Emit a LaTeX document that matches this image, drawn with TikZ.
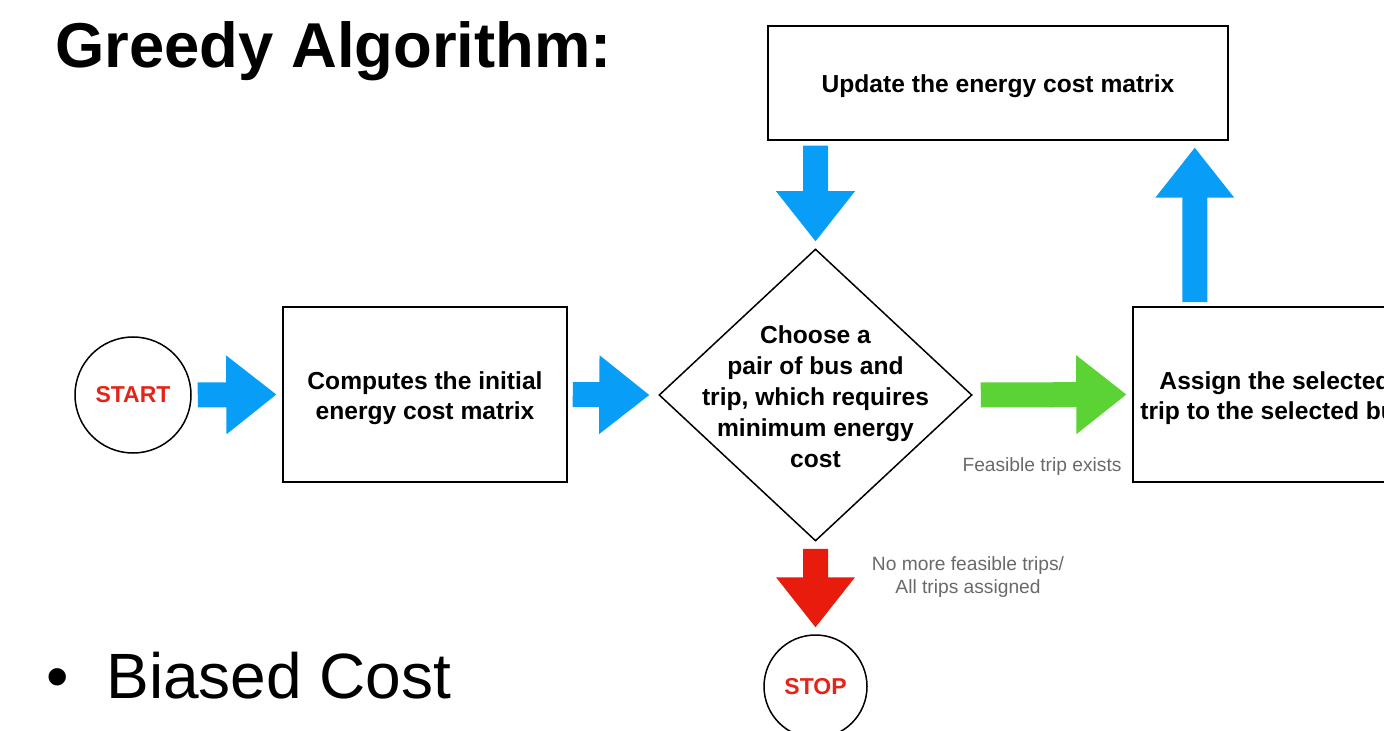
\documentclass[tikz,border=0pt]{standalone}
\usepackage{fontspec}
\setmainfont{Liberation Sans}
\usetikzlibrary{shapes.geometric,calc}

\definecolor{flowblue}{RGB}{8,158,248}
\definecolor{flowgreen}{RGB}{91,211,52}
\definecolor{flowred}{RGB}{232,28,12}
\definecolor{termred}{RGB}{228,36,24}
\definecolor{notegray}{RGB}{105,105,105}

\tikzset{
  stepbox/.style={draw=black, line width=0.75pt, rectangle,
    minimum width=142pt, minimum height=87.5pt, inner sep=0pt},
  boxtext/.style={align=center, inner sep=0pt, yshift=-2pt,
    font=\fontsize{12.3}{15}\selectfont\bfseries},
  terminal/.style={draw=black, line width=0.75pt, circle, inner sep=0pt,
    text=termred, font=\fontsize{11.5}{13}\selectfont\bfseries},
  decision/.style={draw=black, line width=0.75pt, diamond,
    minimum width=156.5pt, minimum height=146pt, inner sep=0pt},
  decisiontext/.style={align=center, inner sep=0pt,
    font=\fontsize{12.3}{15.5}\selectfont\bfseries},
  note/.style={text=notegray, align=center, inner sep=0pt,
    font=\fontsize{9.6}{11.5}\selectfont},
  heading/.style={anchor=base west, inner sep=0pt},
}

% Thick block arrow from #2 (tail) to #3 (tip), filled with colour #1
\newcommand\blockarrow[3]{%
  \coordinate (ba-head) at ($(#3)!25pt!(#2)$);
  \fill[#1]
    ($(#2)!6.25pt!90:(#3)$) --
    ($(ba-head)!6.25pt!90:(#3)$) --
    ($(ba-head)!19.75pt!90:(#3)$) --
    (#3) --
    ($(ba-head)!19.75pt!-90:(#3)$) --
    ($(ba-head)!6.25pt!-90:(#3)$) --
    ($(#2)!6.25pt!-90:(#3)$) -- cycle;}

\begin{document}
\begin{tikzpicture}[x=0.5pt,y=-0.5pt]
\useasboundingbox (0,0) rectangle (1384,731);
\clip (0,0) rectangle (1384,731);

% headings
\node[heading, font=\fontsize{31.7}{38}\selectfont\bfseries] (title) at (55,68) {Greedy Algorithm:};
\node[heading, font=\fontsize{32}{38}\selectfont] (bullet) at (46,698) {•};
\node[heading, font=\fontsize{32}{38}\selectfont] (point) at (106,698) {Biased Cost};

% flowchart nodes
\node[terminal, minimum size=58pt] (start) at (133,395) {START};
\node[stepbox, label={[boxtext]center:{Computes the initial\\energy cost matrix}}] (compute) at (425,394.5) {};
\node[decision] (choose) at (815.5,395) {};
\node[decisiontext] (choosetext) at ($(choose.center)+(0,2)$) {Choose a\\pair of bus and\\trip, which requires\\minimum energy\\cost};
\node[stepbox, label={[boxtext]center:{Assign the selected\\trip to the selected bus}}] (assign) at (1275,394.5) {};
\node[stepbox, minimum width=230pt, minimum height=57pt,
      label={[boxtext, yshift=0.5pt]center:{Update the energy cost matrix}}] (update) at (998,83) {};
\node[terminal, minimum size=51.5pt] (stop) at (815.5,686.5) {STOP};

% connector end points
\coordinate (a1s) at ($(start.east)+(6,0)$);
\coordinate (a1e) at ($(compute.west)+(-6,0)$);
\coordinate (a2s) at ($(compute.east)+(5,0)$);
\coordinate (a2e) at ($(choose.west)+(-9,0)$);
\coordinate (a3s) at ($(choose.east)+(8,0)$);
\coordinate (a3e) at ($(assign.west)+(-6,0)$);
\coordinate (a4e) at ($(update.south east)+(-34,7)$);
\coordinate (a4s) at ($(a4e |- assign.north)+(0,-4)$);
\coordinate (a5s) at ($(choose.north |- update.south)+(0,5)$);
\coordinate (a5e) at ($(choose.north)+(0,-7)$);
\coordinate (a6s) at ($(choose.south)+(0,7)$);
\coordinate (a6e) at ($(stop.north)+(0,-7)$);

% connectors
\blockarrow{flowblue}{a1s}{a1e}
\blockarrow{flowblue}{a2s}{a2e}
\blockarrow{flowgreen}{a3s}{a3e}
\blockarrow{flowblue}{a4s}{a4e}
\blockarrow{flowblue}{a5s}{a5e}
\blockarrow{flowred}{a6s}{a6e}

% connector labels
\node[note] (feasible) at (1042,467) {Feasible trip exists};
\node[note] (nomore) at (968,577.5) {No more feasible trips/\\All trips assigned};
\end{tikzpicture}
\end{document}
